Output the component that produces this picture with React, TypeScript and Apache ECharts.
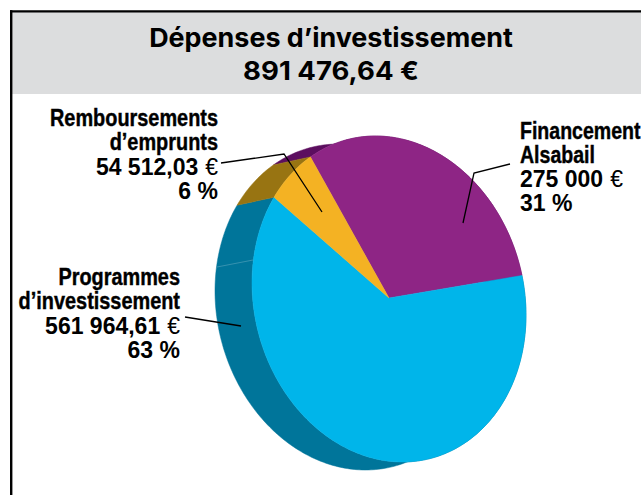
import React, { useEffect, useRef } from "react";
import * as echarts from "echarts";

const categories = ["Financement Alsabail", "Programmes d’investissement", "Remboursements d’emprunts"];
const values = [275000, 561964.61, 54512.03];
const topColors = ["#8E2585", "#00B5EA", "#F4B223"];
const sideColors = ["#5C0E5F", "#00759A", "#987412"];
const titleLines = ["Dépenses d’investissement", "891 476,64 €"];
const financementLabel = ["Financement", "Alsabail", "275 000", "31 %"];
const remboursementLabel = ["Remboursements", "d’emprunts", "54 512,03", "6 %"];
const programmesLabel = ["Programmes", "d’investissement", "561 964,61", "63 %"];

const CX = 389, CY = 299, AX = 389, AY = 298, RX = 137, RY = 163, RHO = 0.0985;
const DX = -37, DY = 8;
const START = -125;
const total = values.reduce((a, b) => a + b, 0);
const FONT = '"Liberation Sans", sans-serif';

const pt = (deg: number, ox = 0, oy = 0): number[] => {
  const t = (deg * Math.PI) / 180;
  const c = Math.cos(t), s = Math.sin(t);
  return [CX + ox + RX * c, CY + oy + RY * (RHO * c + Math.sqrt(1 - RHO * RHO) * s)];
};

const arc = (a: number, b: number, ox = 0, oy = 0) => {
  const out: number[][] = [];
  const n = Math.max(2, Math.ceil(Math.abs(b - a)));
  for (let i = 0; i <= n; i++) out.push(pt(a + ((b - a) * i) / n, ox, oy));
  return out;
};

const rows = values.map((v, i) => {
  const before = values.slice(0, i).reduce((a, b) => a + b, 0);
  return [v, START + (before / total) * 360, i];
});

const labelLines = (lines: string[], x: number, y: number, align: string, nameScale = 0.865) =>
  lines.map((text, i) => {
    const isName = i < 2;
    const base: any = {
      type: "text",
      x,
      y: y + i * 24,
      scaleX: isName ? nameScale : 1,
    };
    if (i === 2) {
      base.style = {
        text: `{n|${text}}{g| }{e|€}`,
        textAlign: align,
        textVerticalAlign: "middle",
        fill: "#000",
        rich: {
          n: { font: `bold 23px ${FONT}`, fill: "#000" },
          g: { font: `bold 23px ${FONT}`, width: 7 },
          e: { font: `normal 23px ${FONT}`, fill: "#000" },
        },
      };
    } else {
      base.style = {
        text,
        fill: "#000",
        stroke: isName ? "#000" : undefined,
        lineWidth: isName ? 0.4 : 0,
        font: `bold 23px ${FONT}`,
        textAlign: align,
        textVerticalAlign: "middle",
      };
    }
    return base;
  });

export default function App() {
  const ref = useRef<HTMLDivElement>(null);
  useEffect(() => {
    const chart = echarts.init(ref.current!, null, { renderer: "svg" });
    chart.setOption({
      animation: false,
      backgroundColor: "#fff",
      series: [
        {
          type: "custom",
          name: "side",
          coordinateSystem: "none",
          z: 2,
          data: rows,
          renderItem: (_p: any, api: any) => {
            const a = api.value(1);
            const b = a + (api.value(0) / total) * 360;
            const i = api.value(2);
            const points = [...arc(a, b), ...arc(b, a, DX, DY)];
            return {
              type: "polygon",
              shape: { points },
              style: { fill: sideColors[i], stroke: sideColors[i], lineWidth: 0.5 },
            };
          },
        },
        {
          type: "custom",
          name: "top",
          coordinateSystem: "none",
          z: 3,
          data: rows,
          renderItem: (_p: any, api: any) => {
            const a = api.value(1);
            const b = a + (api.value(0) / total) * 360;
            const i = api.value(2);
            return {
              type: "polygon",
              shape: { points: [[AX, AY], ...arc(a, b)] },
              style: { fill: topColors[i], stroke: topColors[i], lineWidth: 0.5 },
            };
          },
        },
      ],
      graphic: [
        { type: "rect", z: 1, shape: { x: 11, y: 12, width: 640, height: 82 }, style: { fill: "#DCDDDE" } },
        { type: "line", z: 1, shape: { x1: 10, y1: 11.4, x2: 641, y2: 11.4 }, style: { stroke: "#000", lineWidth: 2.4 } },
        { type: "line", z: 1, shape: { x1: 11.2, y1: 10.2, x2: 11.2, y2: 495 }, style: { stroke: "#000", lineWidth: 2.4 } },
        ...titleLines.map((text, i) => ({
          type: "text",
          z: 5,
          x: 331,
          y: 37 + i * 33,
          scaleX: i === 0 ? 1.035 : 1.06,
          style: { text, fill: "#000", font: "bold 26px Inter, sans-serif", textAlign: "center", textVerticalAlign: "middle" },
        })),
        { type: "group", z: 5, children: labelLines(financementLabel, 520, 131, "left", 0.85) },
        { type: "group", z: 5, children: labelLines(remboursementLabel, 218, 119, "right") },
        { type: "group", z: 5, children: labelLines(programmesLabel, 180, 278, "right") },
        { type: "polyline", z: 6, shape: { points: [[221, 163], [284, 154], [322, 212]] }, style: { stroke: "#000", lineWidth: 1.3, fill: "none" } },
        { type: "polyline", z: 6, shape: { points: [[510, 164], [474, 173], [463, 223]] }, style: { stroke: "#000", lineWidth: 1.3, fill: "none" } },
        { type: "line", z: 6, shape: { x1: 185, y1: 317, x2: 241, y2: 326 }, style: { stroke: "#000", lineWidth: 1.3 } },
        { type: "line", z: 4, shape: { x1: 217, y1: 267, x2: 253, y2: 260 }, style: { stroke: "#4E9DB8", lineWidth: 0.7 } },
      ],
    });
    return () => chart.dispose();
  }, []);
  return <div ref={ref} style={{ position: "fixed", left: 0, top: 0, width: 641, height: 495 }} />;
}
